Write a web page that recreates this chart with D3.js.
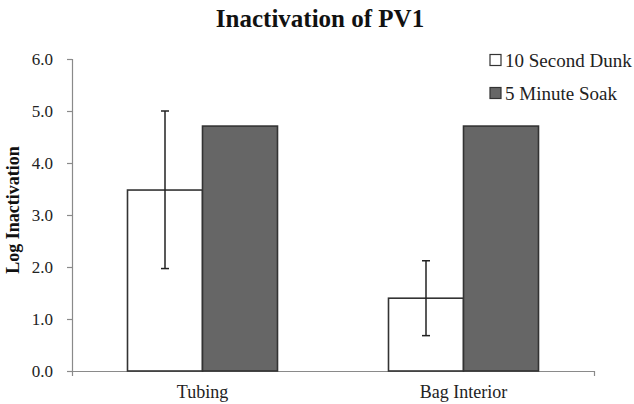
<!DOCTYPE html>
<html><head><meta charset="utf-8">
<script src="https://cdn.jsdelivr.net/npm/d3@7"></script>
<style>body{margin:0;background:#fff}</style>
</head><body>
<svg id="c" width="634" height="404"></svg>
<script>
const categories = ["Tubing", "Bag Interior"];
const series = ["10 Second Dunk", "5 Minute Soak"];
const dunkValues = [3.48, 1.40];
const dunkErrLow = [1.97, 0.68];
const dunkErrHigh = [5.00, 2.12];
const soakValues = [4.71, 4.71];
const yTicks = [0, 1, 2, 3, 4, 5, 6];
const colors = ["#ffffff", "#666666"];

(function () {
const svg = d3.select("#c");
const mLeft = 72, mRight = 594, mTop = 59, mBottom = 371;
const y = d3.scaleLinear().domain([0, 6]).range([mBottom, mTop]);
const x0 = d3.scaleBand().domain(categories).range([mLeft, mRight]).padding(0);
const x1 = d3.scaleBand().domain(series).range([0, x0.bandwidth()]).paddingInner(0).paddingOuter(0.74);

const serif = "'Liberation Serif', 'Times New Roman', serif";
const axisColor = "#8a8a8a";

// y axis
const yAxis = svg.append("g").attr("transform", `translate(${mLeft},0)`)
  .call(d3.axisLeft(y).tickValues(yTicks).tickFormat(d3.format(".1f")).tickSizeOuter(0).tickSize(5).tickPadding(14));
yAxis.select(".domain").attr("stroke", axisColor).attr("stroke-width", 1.2);
yAxis.selectAll(".tick line").attr("stroke", axisColor).attr("stroke-width", 1.2);
yAxis.selectAll("text").style("font-family", serif).style("font-size", "17px").attr("fill", "#222");

// x axis
const xAxis = svg.append("g").attr("transform", `translate(0,${mBottom})`)
  .call(d3.axisBottom(x0).tickSize(0).tickSizeOuter(5).tickPadding(10));
xAxis.select(".domain").attr("stroke", axisColor).attr("stroke-width", 1.2);
xAxis.selectAll("text").attr("y", 27).attr("dy", 0)
  .style("font-family", serif).style("font-size", "18px").attr("fill", "#222");

// bars
const data = [];
categories.forEach((c, i) => {
  data.push({c, s: series[0], v: dunkValues[i], lo: dunkErrLow[i], hi: dunkErrHigh[i], col: colors[0]});
  data.push({c, s: series[1], v: soakValues[i], col: colors[1]});
});
const g = svg.append("g");
g.selectAll("rect").data(data).join("rect")
  .attr("x", d => x0(d.c) + x1(d.s))
  .attr("y", d => y(d.v))
  .attr("width", x1.bandwidth())
  .attr("height", d => y(0) - y(d.v))
  .attr("fill", d => d.col)
  .attr("stroke", "#333").attr("stroke-width", 1.6);

// error bars
const eb = svg.append("g").attr("stroke", "#222").attr("stroke-width", 1.5);
data.filter(d => d.hi !== undefined).forEach(d => {
  const cx = x0(d.c) + x1(d.s) + x1.bandwidth() / 2;
  eb.append("line").attr("x1", cx).attr("x2", cx).attr("y1", y(d.hi)).attr("y2", y(d.lo));
  eb.append("line").attr("x1", cx - 4).attr("x2", cx + 4).attr("y1", y(d.hi)).attr("y2", y(d.hi));
  eb.append("line").attr("x1", cx - 4).attr("x2", cx + 4).attr("y1", y(d.lo)).attr("y2", y(d.lo));
});

// title
svg.append("text").attr("x", 320).attr("y", 27).attr("text-anchor", "middle")
  .style("font-family", serif).style("font-weight", "bold").style("font-size", "25px").attr("fill", "#111")
  .text("Inactivation of PV1");

// y label
svg.append("text").attr("transform", "translate(19,210) rotate(-90)").attr("text-anchor", "middle")
  .style("font-family", serif).style("font-weight", "bold").style("font-size", "18px").attr("fill", "#111")
  .text("Log Inactivation");

// legend
const lg = svg.append("g");
series.forEach((s, i) => {
  const ly = 60 + i * 33;
  lg.append("rect").attr("x", 490).attr("y", ly - 5.5).attr("width", 11).attr("height", 11)
    .attr("fill", colors[i]).attr("stroke", "#333").attr("stroke-width", 1.2);
  lg.append("text").attr("x", 505).attr("y", ly + 6.5)
    .style("font-family", serif).style("font-size", "19px").attr("fill", "#222").text(s);
});
})();
</script>
</body></html>
